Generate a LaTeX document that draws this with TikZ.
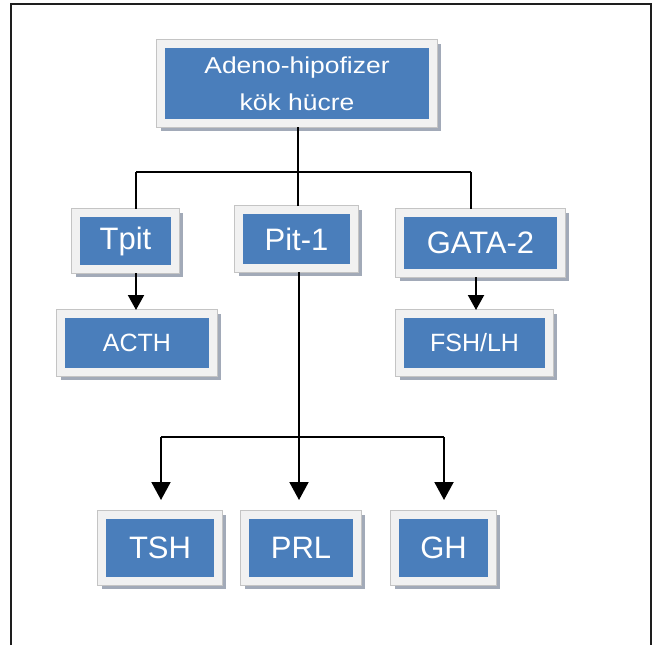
\documentclass[tikz,border=0pt]{standalone}
\usepackage{fontspec}
\setmainfont{Liberation Sans}
\usetikzlibrary{arrows.meta,calc}
\definecolor{boxblue}{HTML}{4A7EBB}
\definecolor{framefill}{HTML}{F1F1F1}
\definecolor{framegray}{HTML}{C4C4C4}
\definecolor{shadowcol}{HTML}{A2AAB8}
\definecolor{framedark}{HTML}{1E1E1E}
\newcommand{\widetxt}[1]{\scalebox{1.15}[1]{#1}}
\tikzset{
  hbox/.style={rectangle, fill=boxblue, text=white, draw=framefill, line width=8pt,
    inner sep=0pt, align=center,
    preaction={draw=shadowcol, fill=shadowcol, line width=8pt, transform canvas={xshift=4pt,yshift=-4pt}},
    preaction={draw=framegray, line width=9.6pt}},
  bigtxt/.style={font=\fontsize{31}{36}\selectfont},
  midtxt/.style={font=\fontsize{25}{30}\selectfont},
  conn/.style={draw=black, line width=2pt},
  arrbig/.style={conn, -{Triangle[length=18pt,width=19pt]}},
  arrsmall/.style={conn, -{Triangle[length=15pt,width=16pt]}},
}
\begin{document}
\begin{tikzpicture}[x=1pt,y=-1pt]
\useasboundingbox (0,0) rectangle (655,645);
\fill[white] (0,0) rectangle (655,645);
\draw[framedark, line width=1.5pt] (11,645) -- (11,4) -- (651,4) -- (651,645);

\node[hbox, minimum width=272pt, minimum height=79pt,
      font=\fontsize{23}{37}\selectfont] (top) at (297,83.5)
      {\widetxt{Adeno-hipofizer}\\\widetxt{kök hücre}};
\node[hbox, bigtxt, minimum width=99pt, minimum height=56pt] (tpit) at (125.5,241) {Tpit};
\node[hbox, bigtxt, minimum width=115pt, minimum height=58pt] (pit) at (296.5,239) {Pit-1};
\node[hbox, bigtxt, minimum width=161pt, minimum height=60pt] (gata) at (480.5,243) {GATA-2};
\node[hbox, midtxt, minimum width=152pt, minimum height=58pt] (acth) at (137,343) {ACTH};
\node[hbox, midtxt, minimum width=149pt, minimum height=58pt] (fsh) at (474.5,343) {FSH/LH};
\node[hbox, bigtxt, minimum width=116pt, minimum height=66pt] (tsh) at (160,548) {TSH};
\node[hbox, bigtxt, minimum width=112pt, minimum height=66pt] (prl) at (301,548) {PRL};
\node[hbox, bigtxt, minimum width=97pt, minimum height=66pt] (gh) at (443.5,548) {GH};

\coordinate (hL) at (136,172);
\coordinate (hM) at (298,172);
\coordinate (hR) at (471,172);
\coordinate (gx) at (476,0);
\coordinate (bL) at (161,437);
\coordinate (bM) at (299,437);
\coordinate (bR) at (444,437);

\draw[conn] (top.south -| hM) -- (hM);
\draw[conn] (hL) -- (hR);
\draw[conn] (hL) -- (tpit.north -| hL);
\draw[conn] (hM) -- (pit.north -| hM);
\draw[conn] (hR) -- (gata.north -| hR);
\draw[arrsmall] (tpit.south -| hL) -- (acth.north -| hL);
\draw[arrsmall] (gata.south -| gx) -- (fsh.north -| gx);

\draw[conn] (pit.south -| bM) -- (bM);
\draw[conn] (bL) -- (bR);
\draw[arrbig, shorten >=11pt] (bL) -- (tsh.north -| bL);
\draw[arrbig, shorten >=11pt] (bM) -- (prl.north -| bM);
\draw[arrbig, shorten >=11pt] (bR) -- (gh.north -| bR);
\end{tikzpicture}
\end{document}
